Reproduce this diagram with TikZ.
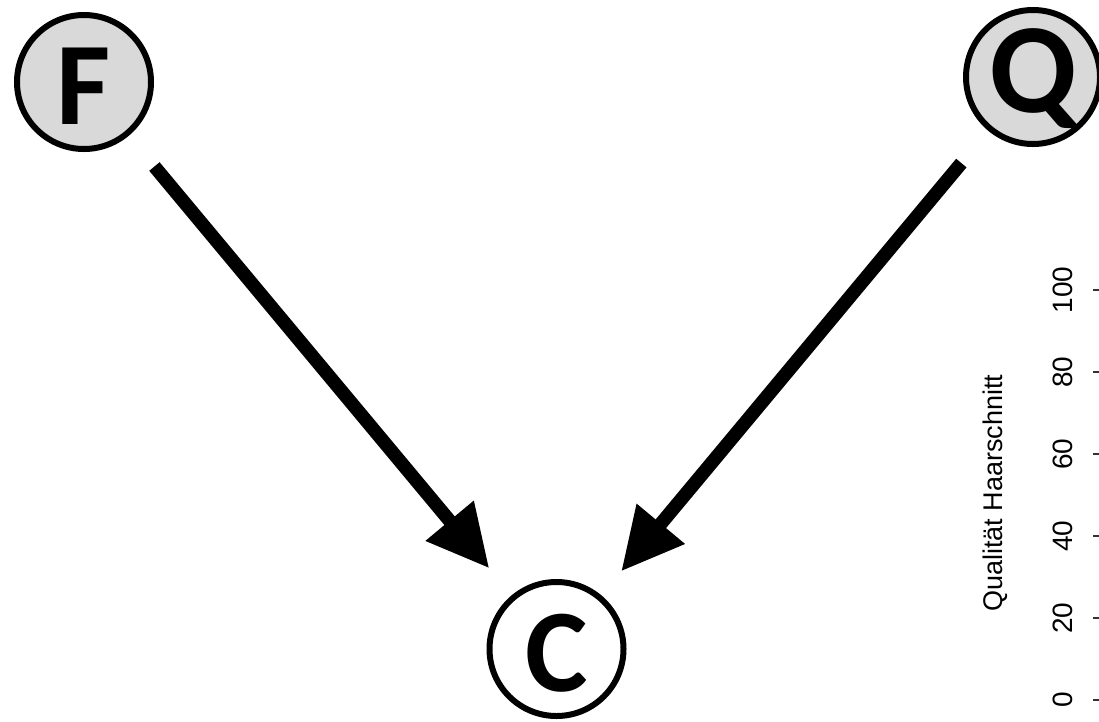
\documentclass[tikz,border=0pt]{standalone}
\usepackage{fontspec}
\setmainfont{Liberation Sans}
\newfontfamily\carlito{Carlito}
\usetikzlibrary{arrows.meta}
\definecolor{nodegray}{HTML}{D9D9D9}
\begin{document}
\begin{tikzpicture}[x=1pt,y=-1pt,
  var/.style={circle, draw=black, line width=6pt, minimum size=134pt, inner sep=0pt,
    font=\carlito\bfseries\fontsize{118}{118}\selectfont, text height=85pt, text depth=0pt},
  obs/.style={var, fill=nodegray},
  causal/.style={line width=13.5pt, -{Triangle[length=62pt,width=59pt]}},
  ticklab/.style={rotate=90, anchor=base, font=\fontsize{28}{28}\selectfont},
  tickmark/.style={line width=1.3pt, black!80}]
\useasboundingbox (0,0) rectangle (1099,721);
\node[obs] (F) at (84,82) {F};
\node[obs, font=\carlito\bfseries\fontsize{128}{128}\selectfont, text height=70pt] (Q) at (1033,77) {Q};
\node[var, fill=white] (C) at (556.5,649) {C};
\draw[causal, shorten <=40pt, shorten >=35pt] (F) -- (C);
\draw[causal, shorten <=42pt, shorten >=31pt] (Q) -- (C);
\foreach \v/\y in {0/700,20/618,40/536,60/454,80/372,100/290} {
  \node[ticklab] (t\v) at (1072,\y) {\v};
  \draw[tickmark] (1093,\y) -- (1100,\y);
}
\node[ticklab, font=\fontsize{27}{27}\selectfont] (title) at (1002,493) {Qualität Haarschnitt};
\end{tikzpicture}
\end{document}
